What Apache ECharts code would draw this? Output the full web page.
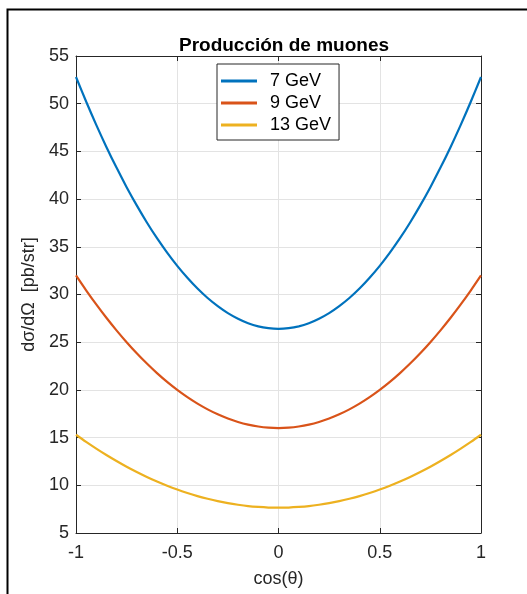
<!DOCTYPE html>
<html>
<head>
<meta charset="utf-8">
<script src="https://cdn.jsdelivr.net/npm/echarts@6/dist/echarts.min.js"></script>
<style>
  html, body { margin: 0; padding: 0; background: #fff; }
  #chart { width: 527px; height: 594px; }
</style>
</head>
<body>
<div id="chart"></div>
<script>
// cos(theta) sample points
const cosTheta = [-1, -0.95, -0.9, -0.85, -0.8, -0.75, -0.7, -0.65, -0.6, -0.55, -0.5,
                  -0.45, -0.4, -0.35, -0.3, -0.25, -0.2, -0.15, -0.1, -0.05, 0,
                  0.05, 0.1, 0.15, 0.2, 0.25, 0.3, 0.35, 0.4, 0.45, 0.5,
                  0.55, 0.6, 0.65, 0.7, 0.75, 0.8, 0.85, 0.9, 0.95, 1];

// differential cross section [pb/str] per beam energy
const gev7 = [52.8, 50.23, 47.78, 45.47, 43.3, 41.25, 39.34, 37.55, 35.9, 34.39, 33.0,
              31.75, 30.62, 29.63, 28.78, 28.05, 27.46, 26.99, 26.66, 26.47, 26.4,
              26.47, 26.66, 26.99, 27.46, 28.05, 28.78, 29.63, 30.62, 31.75, 33.0,
              34.39, 35.9, 37.55, 39.34, 41.25, 43.3, 45.47, 47.78, 50.23, 52.8];
const gev9 = [32.0, 30.44, 28.96, 27.56, 26.24, 25.0, 23.84, 22.76, 21.76, 20.84, 20.0,
              19.24, 18.56, 17.96, 17.44, 17.0, 16.64, 16.36, 16.16, 16.04, 16.0,
              16.04, 16.16, 16.36, 16.64, 17.0, 17.44, 17.96, 18.56, 19.24, 20.0,
              20.84, 21.76, 22.76, 23.84, 25.0, 26.24, 27.56, 28.96, 30.44, 32.0];
const gev13 = [15.3, 14.55, 13.85, 13.18, 12.55, 11.95, 11.4, 10.88, 10.4, 9.96, 9.56,
               9.2, 8.87, 8.59, 8.34, 8.13, 7.96, 7.82, 7.73, 7.67, 7.65,
               7.67, 7.73, 7.82, 7.96, 8.13, 8.34, 8.59, 8.87, 9.2, 9.56,
               9.96, 10.4, 10.88, 11.4, 11.95, 12.55, 13.18, 13.85, 14.55, 15.3];

const seriesNames = ['7 GeV', '9 GeV', '13 GeV'];
const seriesColors = ['#0072BD', '#D95319', '#EDB120'];
const seriesValues = [gev7, gev9, gev13];

const FONT = '"Liberation Sans", Arial, Helvetica, sans-serif';
const AXIS_COLOR = '#262626';

const chart = echarts.init(document.getElementById('chart'), null, { renderer: 'canvas' });

const pairs = vals => cosTheta.map((x, i) => [x, vals[i]]);

const baseAxis = {
  type: 'value',
  axisLine: { show: true, onZero: false, lineStyle: { color: AXIS_COLOR, width: 1 } },
  axisTick: { show: true, inside: true, length: 5, lineStyle: { color: AXIS_COLOR } },
  splitLine: { show: true, lineStyle: { color: '#e3e3e3', width: 1 } },
  axisLabel: { color: AXIS_COLOR, fontFamily: FONT, fontSize: 18 }
};

chart.setOption({
  animation: false,
  backgroundColor: '#fff',
  title: {
    text: 'Producción de muones',
    left: 279, top: 31, textAlign: 'center',
    textStyle: { fontFamily: FONT, fontSize: 19, fontWeight: 'bold', color: '#000' }
  },
  grid: { left: 76, right: 46, top: 56, bottom: 61, containLabel: false },
  legend: {
    orient: 'vertical',
    left: 217, top: 64,
    padding: [8, 8, 6, 4],
    itemGap: 4,
    itemWidth: 36,
    itemHeight: 3,
    icon: 'rect',
    backgroundColor: '#fff',
    borderColor: AXIS_COLOR,
    borderWidth: 1,
    borderRadius: 0,
    textStyle: { fontFamily: FONT, fontSize: 18, color: '#000', padding: [0, 0, 0, 8] },
    data: seriesNames
  },
  xAxis: [
    Object.assign({}, baseAxis, {
      min: -1, max: 1, interval: 0.5, position: 'bottom',
      name: 'cos(θ)', nameLocation: 'middle', nameGap: 37,
      nameTextStyle: { fontFamily: FONT, fontSize: 18, color: AXIS_COLOR },
      axisLabel: Object.assign({}, baseAxis.axisLabel, { margin: 11 })
    }),
    Object.assign({}, baseAxis, {
      min: -1, max: 1, interval: 0.5, position: 'top',
      splitLine: { show: false }, axisLabel: { show: false }
    })
  ],
  yAxis: [
    Object.assign({}, baseAxis, {
      min: 5, max: 55, interval: 5, position: 'left',
      name: 'dσ/dΩ  [pb/str]', nameLocation: 'middle', nameGap: 35,
      nameTextStyle: { fontFamily: FONT, fontSize: 18, color: AXIS_COLOR },
      axisLabel: Object.assign({}, baseAxis.axisLabel, { margin: 7 })
    }),
    Object.assign({}, baseAxis, {
      min: 5, max: 55, interval: 5, position: 'right',
      splitLine: { show: false }, axisLabel: { show: false }
    })
  ],
  series: seriesNames.map((name, i) => ({
    name: name,
    type: 'line',
    xAxisIndex: 0, yAxisIndex: 0,
    data: pairs(seriesValues[i]),
    smooth: 0.3,
    symbol: 'none',
    lineStyle: { color: seriesColors[i], width: 2.2 },
    itemStyle: { color: seriesColors[i] },
    z: 3
  })),
  graphic: [{
    type: 'rect',
    shape: { x: 7.5, y: 9.5, width: 700, height: 700 },
    style: { fill: 'none', stroke: '#000', lineWidth: 2 },
    silent: true, z: 100
  }]
});
</script>
</body>
</html>
